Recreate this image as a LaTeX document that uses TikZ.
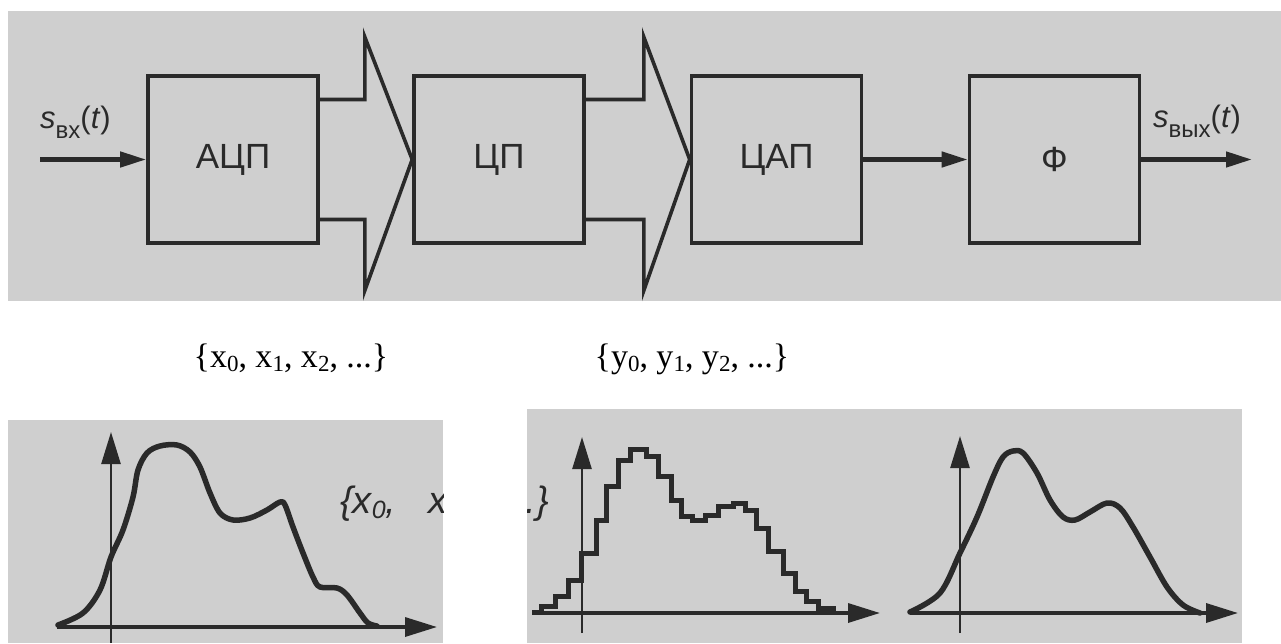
\documentclass[tikz,border=0pt]{standalone}
\usepackage{fontspec}
\setmainfont{Liberation Serif}
\newfontfamily\sansf{Liberation Sans}
\usetikzlibrary{arrows.meta,calc}
\definecolor{paper}{RGB}{207,207,207}
\definecolor{ink}{RGB}{42,42,42}
\newcommand{\seqsub}[1]{\raisebox{-0.14em}{\fontsize{23}{23}\selectfont #1}}
\newcommand{\scansub}[1]{\raisebox{-5pt}{\fontsize{25}{25}\selectfont #1}}
\begin{document}
\begin{tikzpicture}[x=1pt,y=-1pt,
  block/.style={draw=ink, line width=3.6pt, minimum width=170pt, minimum height=167pt,
    inner sep=0pt, text=ink, font=\sansf\fontsize{35}{35}\selectfont},
  sig/.style={draw=ink, line width=4.5pt, -{Triangle[length=26pt,width=15pt]}},
  bus/.style={draw=ink, line width=3.6pt, line join=miter},
  axisline/.style={draw=ink, line width=2.6pt, -{Triangle[length=32pt,width=19pt]}},
  haxis/.style={draw=ink, line width=3.4pt, -{Triangle[length=32pt,width=19pt]}},
  graph/.style={draw=ink, line width=5.5pt, line join=round, line cap=round},
  stair/.style={draw=ink, line width=5pt, line join=miter},
  siglabel/.style={inner sep=0pt, text=ink, font=\sansf\fontsize{31}{31}\selectfont},
  seqlabel/.style={inner sep=0pt, text=black, font=\fontsize{34}{34}\selectfont},
  scanlabel/.style={inner sep=0pt, text=ink, font=\sansf\itshape\fontsize{38}{38}\selectfont}
]
\useasboundingbox (0,0) rectangle (1281,643);
\fill[white] (0,0) rectangle (1281,643);

% ---------- top panel ----------
\fill[paper] (8,11) rectangle (1281,301);

\node[block] (adc) at (233,159.5) {АЦП};
\node[block] (cp)  at (499,159.5) {ЦП};
\node[block] (dac) at (776.5,159.5) {ЦАП};
\node[block] (fil) at (1054.5,159.5) {Ф};

\coordinate (in)  at (40,159.5);
\coordinate (out) at (1252,159.5);
\draw[sig] (in) -- (adc.west);
\draw[sig] (dac.east) -- (fil.west);
\draw[sig] (fil.east) -- (out);

\draw[bus] ($(adc.east)+(0,-60)$) -- ++(45,0) -- ($(adc.east)+(45,-122.5)$)
  -- (cp.west) -- ($(adc.east)+(45,131)$) -- ($(adc.east)+(45,60)$) -- ($(adc.east)+(0,60)$);
\draw[bus] ($(cp.east)+(0,-60)$) -- ++(58,0) -- ($(cp.east)+(58,-122.5)$)
  -- (dac.west) -- ($(cp.east)+(58,131)$) -- ($(cp.east)+(58,60)$) -- ($(cp.east)+(0,60)$);

\node[siglabel, anchor=base west] (sin) at (40,128)
  {\itshape s\upshape\raisebox{-10pt}{\fontsize{24}{24}\selectfont вх}(\textit{t})};
\node[siglabel, anchor=base west] (sout) at (1153,127)
  {\itshape s\upshape\raisebox{-10pt}{\fontsize{24}{24}\selectfont вых}(\textit{t})};

% ---------- sequence labels ----------
\node[seqlabel, anchor=base] (xs) at (291,367) {\{x\seqsub{0}, x\seqsub{1}, x\seqsub{2}, ...\}};
\node[seqlabel, anchor=base] (ys) at (692,367) {\{y\seqsub{0}, y\seqsub{1}, y\seqsub{2}, ...\}};

% ---------- bottom left panel ----------
\fill[paper] (8,420) rectangle (443,643);
\begin{scope}
\clip (8,420) rectangle (443,643);
\coordinate (l0) at (111,643);
\coordinate (l1) at (111,432);
\coordinate (l2) at (57,627);
\coordinate (l3) at (437,627);
\draw[axisline] (l0) -- (l1);
\draw[haxis] (l2) -- (l3);
\draw[graph] plot[smooth, tension=0.55] coordinates {
 (58,625) (83,613) (100,590) (111,557) (123,530) (133,497) (138,470) (147,453)
 (160,446) (177,445) (190,452) (200,467) (210,493) (220,513) (233,520) (250,518)
 (267,510) (280,502) (285,505) (293,527) (303,553) (313,577) (320,587) (337,588)
 (347,595) (360,613) (368,623) (377,626)};
\node[scanlabel, anchor=base west] (xl) at (340,513)
  {\{x\scansub{0},\hspace{32pt}x\scansub{1}};
\end{scope}

% ---------- bottom right panel ----------
\fill[paper] (527,409) rectangle (1242,643);
\begin{scope}
\clip (527,409) rectangle (1242,643);
\node[scanlabel, anchor=base east] (xr) at (549,513) {...\}};
\coordinate (s0) at (582,633);
\coordinate (s1) at (582,437);
\coordinate (s2) at (532,613);
\coordinate (s3) at (880,613);
\draw[axisline] (s0) -- (s1);
\draw[haxis] (s2) -- (s3);
\draw[stair] (532,612.7) -- (541.7,612.7) -- (541.7,606.7) -- (555,606.7) -- (555,596.7)
 -- (568.3,596.7) -- (568.3,580) -- (581.7,580) -- (581.7,553.3) -- (596.7,553.3)
 -- (596.7,520) -- (606.7,520) -- (606.7,486.7) -- (618.3,486.7) -- (618.3,460)
 -- (630,460) -- (630,449.3) -- (646.7,449.3) -- (646.7,456.7) -- (658.3,456.7)
 -- (658.3,476.7) -- (671.7,476.7) -- (671.7,500) -- (681.7,500) -- (681.7,516.7)
 -- (692,516.7) -- (692,520) -- (705,520) -- (705,515) -- (718.3,515) -- (718.3,506.7)
 -- (733.3,506.7) -- (733.3,503.3) -- (745,503.3) -- (745,510) -- (756.7,510)
 -- (756.7,528.3) -- (768.3,528.3) -- (768.3,551.7) -- (783.3,551.7) -- (783.3,573.3)
 -- (795,573.3) -- (795,591.7) -- (806.7,591.7) -- (806.7,601.7) -- (818.3,601.7)
 -- (818.3,608.3) -- (833.3,608.3) -- (833.3,612.7);
\coordinate (r0) at (960,633);
\coordinate (r1) at (960,436);
\coordinate (r2) at (910,613);
\coordinate (r3) at (1238,613);
\draw[axisline] (r0) -- (r1);
\draw[haxis] (r2) -- (r3);
\draw[graph] plot[smooth, tension=0.55] coordinates {
 (910,612) (940,593) (960,553) (977,517) (993,477) (1003,457) (1013,451) (1023,453)
 (1037,473) (1050,500) (1063,517) (1075,520) (1090,512) (1107,503) (1120,508)
 (1133,527) (1150,557) (1167,587) (1183,605) (1200,613)};
\end{scope}
\end{tikzpicture}
\end{document}
